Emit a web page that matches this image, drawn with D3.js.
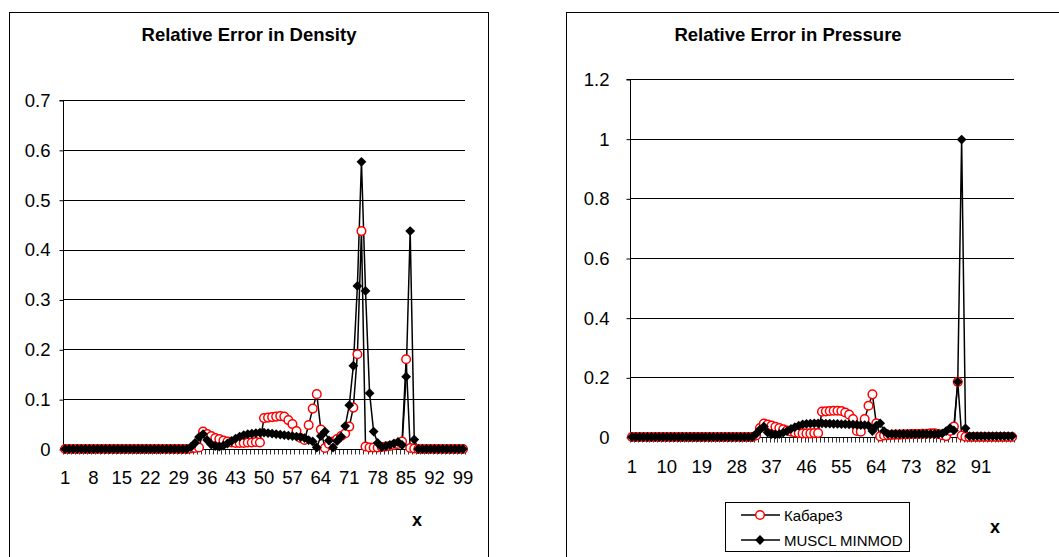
<!DOCTYPE html>
<html><head><meta charset="utf-8">
<script src="https://cdn.jsdelivr.net/npm/d3@7"></script>
<style>
html,body{margin:0;padding:0;background:#fff;}
svg{display:block;font-family:"Liberation Sans",Arial,sans-serif;}
</style></head>
<body>
<svg id="c" width="1059" height="557"></svg>
<script>
// categories 1..99
const categories = Array.from({length:99},(_,i)=>i+1);
const zeros = n => new Array(n).fill(0);

const densityKabare = [].concat(zeros(31), [
 0.001,0.002,0.003,0.035,0.030,0.026,0.022,0.020,0.017,0.015, // 32-41
 0.013,0.012,0.012,0.012,0.013,0.013,0.014,0.013,0.062,0.063, // 42-51
 0.064,0.065,0.066,0.065,0.058,0.050,0.036,0.022,0.018,0.048, // 52-61
 0.081,0.110,0.039,0.002,0.010,0.015,0.020,0.026,0.031,0.045, // 62-71
 0.083,0.190,0.437,0.005,0.003,0.003,0.003,0.004,0.005,0.006, // 72-81
 0.008,0.010,0.015,0.180,0.002,0.001], zeros(12));
const densityMuscl = [].concat(zeros(31), [
 0.004,0.012,0.024,0.030,0.018,0.009,0.006,0.005,0.007,0.011, // 32-41
 0.016,0.021,0.025,0.028,0.030,0.031,0.032,0.033,0.033,0.032, // 42-51
 0.031,0.030,0.029,0.028,0.027,0.026,0.025,0.024,0.022,0.018, // 52-61
 0.015,0.003,0.026,0.035,0.017,0.003,0.016,0.025,0.046,0.088, // 62-71
 0.167,0.327,0.576,0.317,0.112,0.035,0.012,0.004,0.006,0.008, // 72-81
 0.011,0.014,0.008,0.145,0.437,0.019], zeros(12));

const pressureKabare = [].concat(zeros(32), [
 0.005,0.030,0.045,0.042,0.038,0.034,0.030,0.026,0.022, // 33-41
 0.018,0.015,0.013,0.012,0.012,0.012,0.013,0.013,0.085,0.086, // 42-51
 0.087,0.088,0.088,0.087,0.082,0.075,0.060,0.020,0.018,0.060, // 52-61
 0.105,0.143,0.046,0.002,0.005,0.006,0.007,0.008,0.008,0.009, // 62-71
 0.009,0.010,0.010,0.010,0.011,0.011,0.012,0.012,0.010,0.006, // 72-81
 0.003,0.020,0.035,0.185,0.005,0.001], zeros(12));
const pressureMuscl = [].concat(zeros(32), [
 0.010,0.025,0.035,0.015,0.010,0.009,0.010,0.015,0.020, // 33-41
 0.027,0.033,0.038,0.042,0.044,0.045,0.046,0.046,0.046,0.045, // 42-51
 0.045,0.044,0.044,0.043,0.043,0.042,0.042,0.041,0.040,0.040, // 52-61
 0.038,0.020,0.038,0.046,0.020,0.010,0.010,0.010,0.010,0.010, // 62-71
 0.010,0.010,0.010,0.010,0.010,0.010,0.010,0.010,0.010,0.012, // 72-81
 0.020,0.030,0.022,0.185,0.997,0.029,
 0.003,0.003,0.003,0.003,0.003,0.003,0.003,0.003,0.003,0.003,0.003,0.003]);

const densityTicks = [0,0.1,0.2,0.3,0.4,0.5,0.6,0.7];
const pressureTicks = [0,0.2,0.4,0.6,0.8,1,1.2];
const densityXLabels = [1,8,15,22,29,36,43,50,57,64,71,78,85,92,99];
const pressureXLabels = [1,10,19,28,37,46,55,64,73,82,91];
const seriesNames = ["Кабаре3","MUSCL MINMOD"];

const svg = d3.select("#c");
const FONT = 18.5;
const R = 4.3, DS = 4.9;

function drawChart(cfg){
  const g = svg.append("g");
  g.append("rect").attr("x",cfg.box[0]+0.5).attr("y",cfg.box[1]+0.5)
   .attr("width",cfg.box[2]).attr("height",cfg.box[3])
   .attr("fill","#fff").attr("stroke","#000").attr("stroke-width",1);
  g.append("text").attr("x",cfg.titleX).attr("y",cfg.titleY)
   .attr("text-anchor","middle").attr("font-weight","bold").attr("font-size",18.5)
   .text(cfg.title);

  const x = d3.scaleBand().domain(categories).range([cfg.x0,cfg.x1]).paddingInner(0).paddingOuter(0);
  const cx = c => x(c)+x.bandwidth()/2;
  const y = d3.scaleLinear().domain([0,cfg.ymax]).range([cfg.y0,cfg.ytop]);

  g.append("g").selectAll("line").data(cfg.yticks.filter(v=>v>0)).join("line")
   .attr("x1",cfg.x0).attr("x2",cfg.x1)
   .attr("y1",d=>Math.round(y(d))+0.5).attr("y2",d=>Math.round(y(d))+0.5)
   .attr("stroke","#000").attr("stroke-width",1);

  const ya = d3.axisLeft(y).tickValues(cfg.yticks).tickSize(4).tickPadding(cfg.ypad)
     .tickFormat(d=>String(+d.toFixed(1)));
  const yg = g.append("g").attr("transform",`translate(${cfg.x0+0.5},0.5)`).call(ya);
  yg.select(".domain").attr("d",`M-4,${Math.round(y(cfg.ymax))}H0V${Math.round(y(0))}`);
  yg.selectAll("text").attr("font-size",FONT).attr("font-family","Liberation Sans, Arial, sans-serif").attr("fill","#000");

  const bounds = categories.map(c=>x(c)).concat([cfg.x1]);
  const y0r = Math.round(y(0))+0.5;
  g.append("line").attr("x1",cfg.x0).attr("x2",cfg.x1).attr("y1",y0r).attr("y2",y0r).attr("stroke","#000");
  g.append("g").selectAll("line").data(bounds).join("line")
   .attr("x1",d=>Math.round(d)+0.5).attr("x2",d=>Math.round(d)+0.5)
   .attr("y1",y0r).attr("y2",y0r+5).attr("stroke","#000").attr("stroke-width",0.8);
  g.append("g").selectAll("text").data(cfg.xlabels).join("text")
   .attr("x",d=>cx(d)).attr("y",cfg.xlabY).attr("text-anchor","middle")
   .attr("font-size",FONT).text(d=>d);

  g.append("text").attr("x",cfg.xTitle[0]).attr("y",cfg.xTitle[1]).attr("text-anchor","middle")
   .attr("font-weight","bold").attr("font-size",18).text("x");

  const line = d3.line().x((d,i)=>cx(categories[i])).y(d=>y(d));
  cfg.series.forEach(s=>{
    g.append("path").datum(s).attr("d",line).attr("fill","none").attr("stroke","#000").attr("stroke-width",1.5);
  });
  g.append("g").selectAll("circle").data(cfg.series[0]).join("circle")
   .attr("cx",(d,i)=>cx(categories[i])).attr("cy",d=>y(d)).attr("r",R)
   .attr("fill","#fff").attr("stroke","#ff0000").attr("stroke-width",1.5);
  g.append("g").selectAll("path").data(cfg.series[1]).join("path")
   .attr("d",(d,i)=>{const px=cx(categories[i]),py=y(d);return `M${px},${py-DS}L${px+DS},${py}L${px},${py+DS}L${px-DS},${py}Z`;})
   .attr("fill","#000");
}

drawChart({box:[9,12,479,560],title:"Relative Error in Density",titleX:249,titleY:41,
  x0:63,x1:465,y0:449,ytop:100,ymax:0.7,yticks:densityTicks,ypad:9,
  xlabels:densityXLabels,xlabY:484,xTitle:[417,526],series:[densityKabare,densityMuscl]});

drawChart({box:[566,12,520,560],title:"Relative Error in Pressure",titleX:788,titleY:41,
  x0:630,x1:1014,y0:437,ytop:79,ymax:1.2,yticks:pressureTicks,ypad:17,
  xlabels:pressureXLabels,xlabY:473,xTitle:[995,533],series:[pressureKabare,pressureMuscl]});

// legend
const lg = svg.append("g");
lg.append("rect").attr("x",725.5).attr("y",502.5).attr("width",184).attr("height",49)
  .attr("fill","#fff").attr("stroke","#000");
seriesNames.forEach((n,i)=>{
  const yy = 515 + i*25;
  lg.append("line").attr("x1",741).attr("x2",780).attr("y1",yy).attr("y2",yy).attr("stroke","#000").attr("stroke-width",1.5);
  if(i===0){
    lg.append("circle").attr("cx",760).attr("cy",yy).attr("r",R).attr("fill","#fff").attr("stroke","#ff0000").attr("stroke-width",1.5);
  } else {
    lg.append("path").attr("d",`M760,${yy-DS}L${760+DS},${yy}L760,${yy+DS}L${760-DS},${yy}Z`).attr("fill","#000");
  }
  lg.append("text").attr("x",784).attr("y",yy+5.5).attr("font-size",15).text(n);
});
</script>
</body></html>
